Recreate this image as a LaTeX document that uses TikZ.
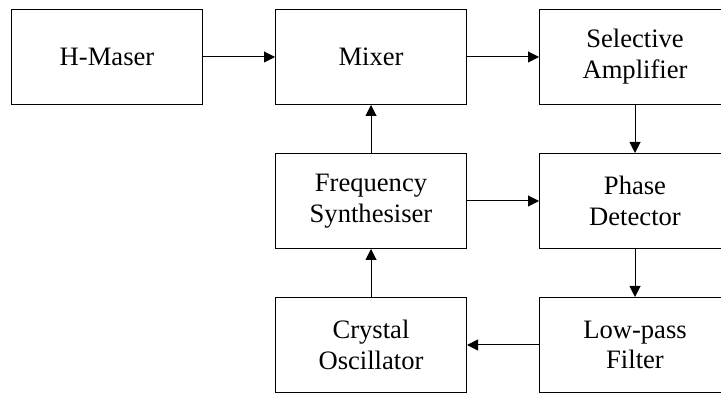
\documentclass[tikz,border=0pt]{standalone}
\usepackage{fontspec}
\setmainfont{Liberation Serif}
\usepackage{xcolor}
\usepackage{tikz}
\usetikzlibrary{arrows.meta,positioning}
\tikzset{
  loop diagram/.style={font=\fontsize{13.3}{15.4}\selectfont,
    line cap=butt, line join=miter},
  loop box/.style={draw=black, fill=white, line width=0.6pt,
    minimum width=95.4pt, minimum height=47.4pt, inner sep=0pt, align=center},
  loop arrow/.style={-{Triangle[length=5.5pt,width=5.5pt]}, draw=black, line width=0.5pt}
}
\begin{document}
\begin{tikzpicture}[loop diagram, x=0.5pt, y=-0.5pt]
\clip (0,0) rectangle (721,394);
\node[loop box] (maser) at (107,57) {H-Maser};
\node[loop box] (mixer) at (371,57) {Mixer};
\node[loop box] (amp) at (635,57) {Selective\\Amplifier};
\node[loop box] (synth) at (371,201) {Frequency\\Synthesiser};
\node[loop box] (phase) at (635,201) {Phase\\Detector};
\node[loop box] (xtal) at (371,345) {Crystal\\Oscillator};
\node[loop box] (lowpass) at (635,345) {Low-pass\\Filter};
\draw[loop arrow] (maser) -- (mixer);
\draw[loop arrow] (mixer) -- (amp);
\draw[loop arrow] (amp) -- (phase);
\draw[loop arrow] (synth) -- (mixer);
\draw[loop arrow] (synth) -- (phase);
\draw[loop arrow] (phase) -- (lowpass);
\draw[loop arrow] (lowpass) -- (xtal);
\draw[loop arrow] (xtal) -- (synth);
\end{tikzpicture}
\end{document}
